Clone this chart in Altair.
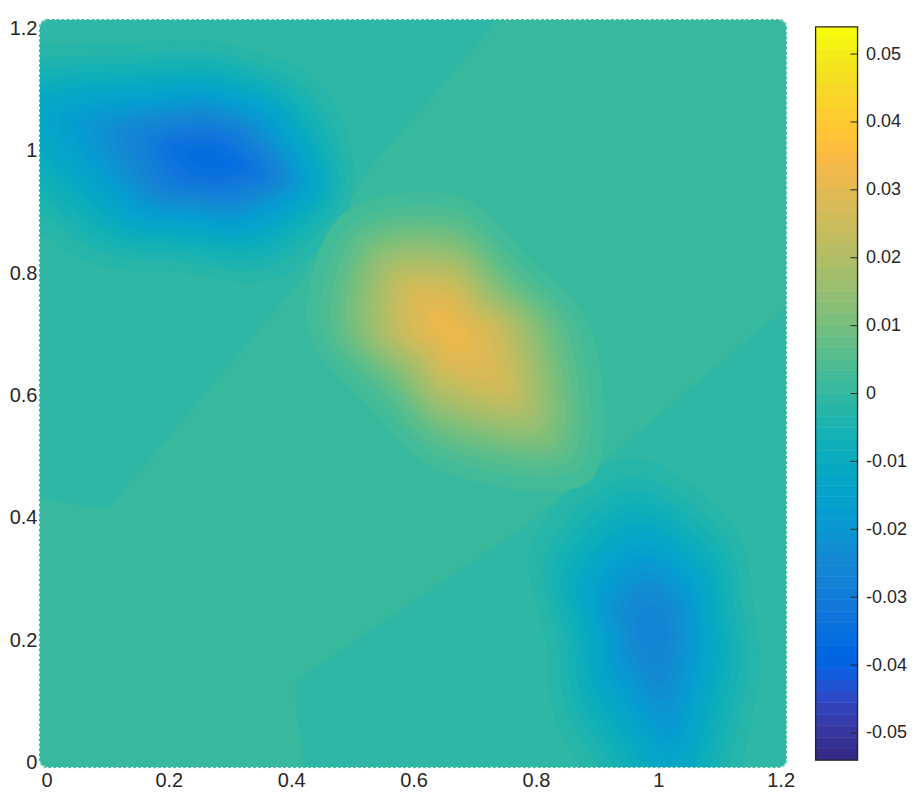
import math
import altair as alt
import pandas as pd

PARULA = ["#352a87","#363093","#3637a0","#353dad","#3243ba","#2c4ac7","#2053d4","#0f5cdd","#0363e1","#0268e1",
"#046de0","#0871de","#0d75dc","#1079da","#127dd8","#1481d6","#1485d4","#1389d3","#108ed2","#0c93d2",
"#0998d1","#079ccf","#06a0cd","#06a4ca","#06a7c6","#07a9c2","#0aacbe","#0faeb9","#15b1b4","#1db3af",
"#25b5a9","#2eb7a4","#38b99e","#42bb98","#4dbc92","#59bd8c","#65be86","#71bf80","#7cbf7b","#87bf77",
"#92bf73","#9cbf6f","#a5be6b","#aebe67","#b7bd64","#c0bc60","#c8bc5d","#d1bb59","#d9ba56","#e1b952",
"#e9b94e","#f1b94a","#f8ba44","#fdbe3d","#ffc337","#fec832","#fccd2e","#fad32a","#f7d826","#f5de21",
"#f5e41d","#f5eb18","#f6f313","#f9fb0e"]

C_LOW, C_HIGH = -0.054, 0.054
X_DOMAIN = [-0.0106, 1.209]
Y_DOMAIN = [-0.0106, 1.2106]
X_TICKS = [0, 0.2, 0.4, 0.6, 0.8, 1.0, 1.2]
Y_TICKS = [0, 0.2, 0.4, 0.6, 0.8, 1.0, 1.2]
BAR_TICKS = [-0.05, -0.04, -0.03, -0.02, -0.01, 0, 0.01, 0.02, 0.03, 0.04, 0.05]
BACKGROUND = 0.0005

WEDGE_A_X = [-0.02, 0.10, 0.415, 0.53, 0.757, -0.02]
WEDGE_A_Y = [0.43, 0.41, 0.784, 0.97, 1.23, 1.23]
WEDGE_B_X = [0.423, 0.41, 0.406, 0.79, 0.97, 1.23, 1.23]
WEDGE_B_Y = [-0.02, 0.065, 0.13, 0.39, 0.539, 0.76, -0.02]
WEDGE_VALUE = -0.0015

# Level outlines. Each blob: its peak, its levels (outermost first), and for
# each direction (degrees, counter-clockwise from +x) how far each level reaches, in thousandths of an axis unit.
A_PEAK = (0.268, 0.984)
A_LEVELS = [-.0026,-.0043,-.0059,-.0076,-.0093,-.011,-.0127,-.0143,-.016,-.0177,-.0194,-.0211,-.0228,-.0245,-.0262,-.0278,-.0295,-.0312,-.0329,-.0346,-.0363]
A_REACH = {
    165: [539,470,423,384,351,324,299,276,255,234,215,196,178,161,143,127,109,91,85,70,45],
    210: [286,257,237,220,206,193,182,171,161,151,141,132,122,113,103,94,84,72,60,45,24],
    255: [193,174,160,149,139,130,123,115,108,102,95,89,82,76,69,63,56,49,41,31,16],
    300: [224,202,186,172,161,151,142,134,126,118,110,103,96,88,81,73,65,57,47,36,19],
    345: [240,226,215,205,196,188,180,172,164,157,149,141,134,126,118,110,100,90,78,64,40],
    30:  [220,198,183,169,158,149,140,132,124,116,108,101,94,87,79,72,64,56,46,35,19],
    75:  [189,170,157,146,136,128,120,113,106,100,93,87,81,74,68,62,55,48,40,30,16],
    120: [220,198,183,169,158,149,140,132,124,116,108,101,94,87,79,72,64,56,46,35,19],
}
B_PEAK = (0.660, 0.702)
B_LEVELS = [.00253,.00422,.00591,.0076,.00928,.01097,.01266,.01434,.01603,.01772,.01941,.02109,.02278,.02447,.02616,.02784,.02953,.03122]
B_REACH = {
    133: [260,238,223,210,198,188,178,168,159,150,141,132,122,112,100,88,71,46],
    178: [234,211,194,181,169,158,148,139,130,121,113,103,95,85,75,63,49,29],
    223: [181,161,147,136,126,117,109,102,94,87,80,73,66,59,51,42,32,18],
    268: [232,209,193,179,168,157,147,138,129,120,112,103,94,84,74,63,49,29],
    313: [335,307,287,270,256,242,229,217,205,194,182,170,157,144,129,105,75,46],
    358: [234,211,194,181,169,158,148,139,130,121,113,103,95,85,75,63,49,29],
    43:  [176,157,143,132,123,114,106,99,92,85,78,71,64,57,49,41,31,17],
    88:  [222,200,184,172,161,150,141,132,123,115,107,98,90,81,71,60,47,28],
}
C_PEAK = (0.991, 0.217)
C_LEVELS = [-.0026,-.0043,-.0059,-.0076,-.0093,-.011,-.0127,-.0143,-.016,-.0177,-.0194,-.0211,-.0228,-.0245,-.0262]
C_REACH = {
    99:  [281,249,227,207,191,175,161,148,135,121,108,94,79,62,40],
    144: [242,215,196,179,164,151,138,128,116,105,93,81,68,54,35],
    189: [176,156,142,130,119,110,101,93,84,76,68,59,50,39,25],
    234: [237,210,191,175,161,148,136,125,114,102,91,79,67,53,34],
    279: [425,377,343,314,288,265,243,224,204,184,164,142,120,94,61],
    324: [207,184,167,153,140,129,118,109,99,89,80,69,58,46,30],
    9:   [168,149,136,124,114,105,96,89,80,73,65,56,47,37,24],
    54:  [216,192,175,159,146,135,124,114,103,93,83,72,61,48,31],
}

rows = []
cid = 0
for peak, lvls, reach in [(A_PEAK, A_LEVELS, A_REACH), (C_PEAK, C_LEVELS, C_REACH), (B_PEAK, B_LEVELS, B_REACH)]:
    for k, level in enumerate(lvls):
        for i, (deg, radii) in enumerate(reach.items()):
            a = math.radians(deg)
            rows.append({"c": cid, "i": i, "v": level,
                         "x": peak[0] + radii[k] / 1000 * math.cos(a),
                         "y": peak[1] + radii[k] / 1000 * math.sin(a)})
        cid += 1
levels = pd.DataFrame(rows)

wedges = pd.DataFrame(
    [{"c": "a", "i": i, "v": WEDGE_VALUE, "x": x, "y": y} for i, (x, y) in enumerate(zip(WEDGE_A_X, WEDGE_A_Y))] +
    [{"c": "b", "i": i, "v": WEDGE_VALUE, "x": x, "y": y} for i, (x, y) in enumerate(zip(WEDGE_B_X, WEDGE_B_Y))]
)

color = alt.Color("v:Q", legend=None,
                  scale=alt.Scale(type="quantize", domain=[C_LOW, C_HIGH], range=PARULA))
stroke_same = alt.Stroke("v:Q", legend=None,
                  scale=alt.Scale(type="quantize", domain=[C_LOW, C_HIGH], range=PARULA))
FONT = "Liberation Sans"
TEXT = "#262626"
FS = 20
x_enc = alt.X("x:Q", title=None, scale=alt.Scale(domain=X_DOMAIN, nice=False, zero=False),
              axis=alt.Axis(values=X_TICKS, format=".1~f", grid=False, domain=False, ticks=False,
                            labelFont=FONT, labelFontSize=FS, labelColor=TEXT, labelPadding=3,
                            labelFlush=False, labelOverlap=False, zindex=1))
y_enc = alt.Y("y:Q", title=None, scale=alt.Scale(domain=Y_DOMAIN, nice=False, zero=False),
              axis=alt.Axis(values=Y_TICKS, format=".1~f", grid=False, domain=False, ticks=False,
                            labelFont=FONT, labelFontSize=FS, labelColor=TEXT, labelPadding=3,
                            labelFlush=False, labelOverlap=False, labelOffset=2, zindex=1))

base = alt.Chart(pd.DataFrame([{"x": X_DOMAIN[0], "x2": X_DOMAIN[1], "y": Y_DOMAIN[0], "y2": Y_DOMAIN[1], "v": BACKGROUND}])
    ).mark_rect().encode(x=x_enc, x2="x2:Q", y=y_enc, y2="y2:Q", color=color)

wedge_layer = alt.Chart(wedges).mark_line(filled=True, strokeWidth=0, clip=True).encode(
    x=x_enc, y=y_enc, color=color, detail="c:N", order="i:Q")
level_layer = alt.Chart(levels).mark_line(filled=True, strokeWidth=0, clip=True, interpolate="cardinal-closed").encode(
    x=x_enc, y=y_enc, color=color, detail="c:N", order="i:Q")

W, H = 747, 748
frame_src = pd.DataFrame([{"k": 0}])
frame = alt.Chart(frame_src).mark_rect(fillOpacity=0, stroke="white", strokeWidth=6, cornerRadius=10).encode(
    x=alt.value(-3), x2=alt.value(W + 3), y=alt.value(-3), y2=alt.value(H + 3))
dash = alt.Chart(frame_src).mark_rect(fillOpacity=0, stroke="#38b99e", strokeWidth=1, strokeDash=[3, 2], cornerRadius=7).encode(
    x=alt.value(-0.5), x2=alt.value(W + 0.5), y=alt.value(-0.5), y2=alt.value(H + 0.5))

main = alt.layer(base, wedge_layer, level_layer, frame, dash).properties(width=W, height=H)

# colour bar
step = (C_HIGH - C_LOW) / len(PARULA)
bar_df = pd.DataFrame([{"x": 0, "x2": 1, "y": C_LOW + i * step, "y2": C_LOW + (i + 1) * step,
                        "v": C_LOW + (i + 0.5) * step} for i in range(len(PARULA))])
BAR_EXT = 0.054 + 7 * 0.108 / 734
bar_y = alt.Y("y:Q", title=None, scale=alt.Scale(domain=[-BAR_EXT, BAR_EXT], nice=False, zero=False),
              axis=alt.Axis(orient="right", values=BAR_TICKS, grid=False, domain=False, ticks=False,
                            labelExpr="replace(format(datum.value,'.2~f'),'\u2212','-')",
                            labelFont=FONT, labelFontSize=18, labelColor=TEXT, labelPadding=8,
                            labelFlush=False, labelOverlap=False))
bar_x = alt.X("x:Q", title=None, axis=None, scale=alt.Scale(domain=[0, 1], nice=False))
cells = alt.Chart(bar_df).mark_rect(strokeWidth=0.6).encode(
    x=bar_x, x2="x2:Q", y=bar_y, y2="y2:Q", color=color, stroke=stroke_same)
outline = alt.Chart(pd.DataFrame([{"x": 0, "x2": 1, "y": C_LOW, "y2": C_HIGH}])).mark_rect(
    fillOpacity=0, stroke=TEXT, strokeWidth=1.3).encode(x=bar_x, x2="x2:Q", y=bar_y, y2="y2:Q")
tick_marks = alt.Chart(pd.DataFrame({"y": BAR_TICKS, "x": [0.83] * len(BAR_TICKS), "x2": [1] * len(BAR_TICKS)})).mark_rule(
    color=TEXT, strokeWidth=1).encode(x=bar_x, x2="x2:Q", y=bar_y)
bar = alt.layer(cells, outline, tick_marks).properties(width=42, height=H)

chart = alt.hconcat(main, bar, spacing=19.5).properties(
    padding={"left": 1, "top": 5.5, "right": 0, "bottom": 0}
).configure_view(stroke=None)

chart.save("out.html", embed_options={"renderer": "svg", "actions": False})
